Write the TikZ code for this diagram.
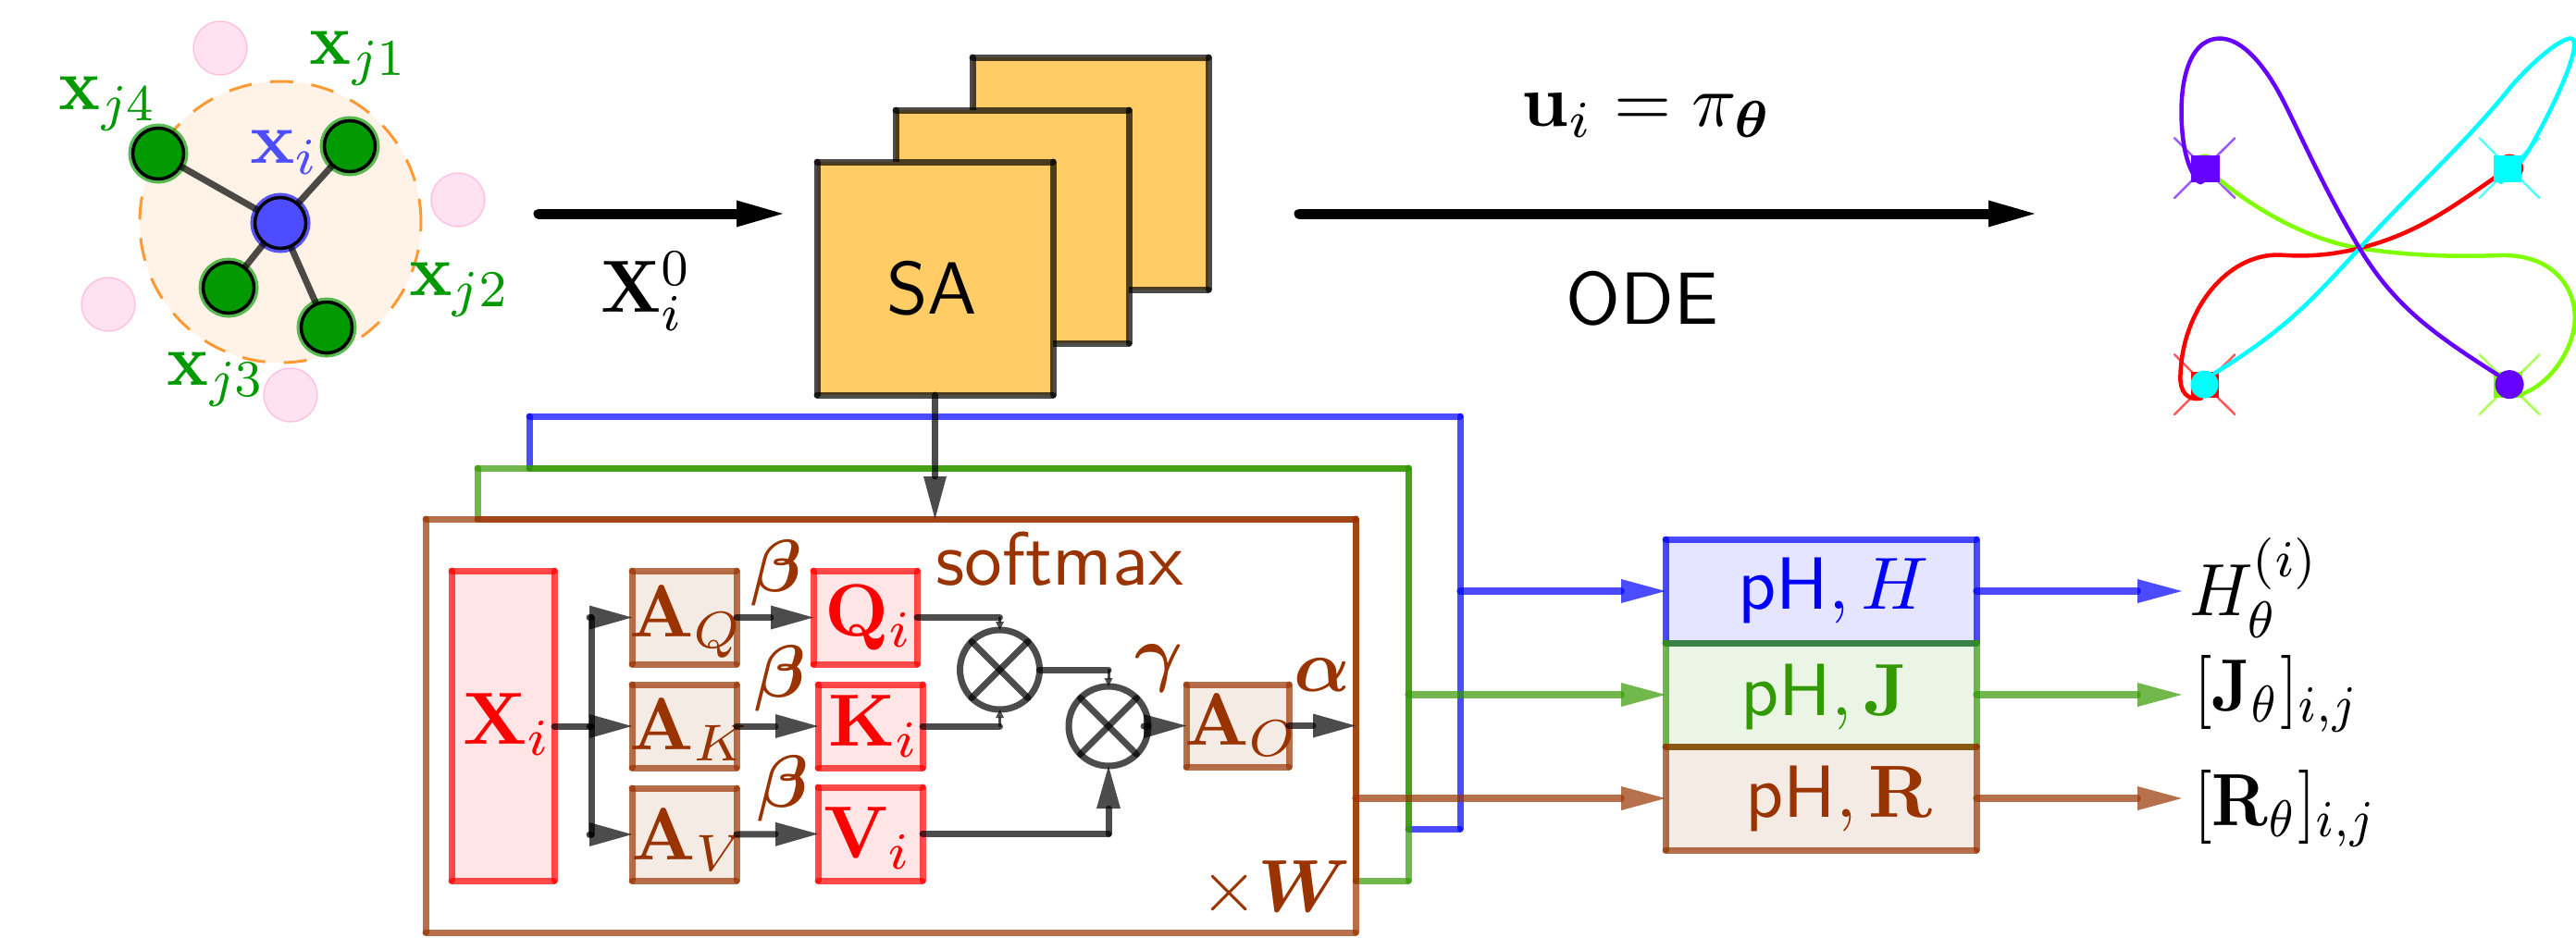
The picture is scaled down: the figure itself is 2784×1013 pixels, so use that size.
\documentclass[tikz,border=0pt]{standalone}
\usepackage{amsmath}
\usepackage{amssymb}
\usetikzlibrary{arrows.meta,calc}
\definecolor{rd}{HTML}{FF0000}
\definecolor{brn}{HTML}{993300}
\definecolor{blu}{HTML}{0000FF}
\definecolor{grn}{HTML}{339900}
\definecolor{dgn}{HTML}{009900}
\definecolor{xblu}{HTML}{4D4DFF}
\definecolor{org}{HTML}{FF9933}
\definecolor{pnk}{HTML}{FF99CC}
\definecolor{card}{HTML}{FFCC66}
\definecolor{tpur}{HTML}{6600FF}
\definecolor{tcya}{HTML}{00FFFF}
\definecolor{tgrn}{HTML}{80FF00}
\tikzset{
  bx/.style 2 args={rectangle,inner sep=0pt,outer sep=0pt,minimum width=#1pt,minimum height=#2pt},
  edge/.style={draw=#1,opacity=.7,line width=7pt,line cap=round},
  lab/.style={inner sep=0pt,outer sep=0pt,scale=8,anchor=base west},
  labc/.style={inner sep=0pt,outer sep=0pt,scale=8,anchor=center},
  conn/.style={draw=black,opacity=.7,line width=7pt,line cap=round},
  head/.style={conn,-{Triangle[length=46pt,width=26pt,line width=0pt]}},
  tiny/.style={conn,line width=3pt,-{Triangle[length=9pt,width=9pt,line width=0pt]}},
  cflow/.style={draw=#1,opacity=.7,line width=7.5pt,line cap=round,-{Triangle[length=48pt,width=26pt,line width=0pt]}},
  bigar/.style={draw=black,line width=11pt,line cap=round,-{Triangle[length=50pt,width=29pt,line width=0pt]}},
  otim/.style={circle,inner sep=0pt,outer sep=0pt,minimum size=86pt},
  pinkn/.style={circle,inner sep=0pt,minimum size=58pt,fill=pnk!28,draw=pnk,draw opacity=.5,line width=1.5pt},
  gnode/.style={circle,inner sep=0pt,outer sep=0pt,minimum size=55pt,fill=dgn,draw=black,line width=3.5pt,
    preaction={draw=dgn,draw opacity=.65,line width=10pt}},
  bnode/.style={circle,inner sep=0pt,outer sep=0pt,minimum size=55pt,fill=xblu,draw=black,line width=3.5pt,
    preaction={draw=blu,draw opacity=.65,line width=10pt}},
  spoke/.style={draw=black,opacity=.7,line width=7pt},
  traj/.style={draw=#1,line width=4.5pt,line cap=round},
  xmark/.style={draw=#1,opacity=.65,line width=2.5pt,line cap=round},
}
\begin{document}
\begin{tikzpicture}[x=1pt,y=-1pt]
\useasboundingbox (0,0) rectangle (2784,1013);

% --- neighbourhood graph
\node[circle,inner sep=0pt,minimum size=304pt,fill=org!12,draw=org,line width=3pt,dash pattern=on 25pt off 20pt] (hood) at (303,240) {};
\node[pinkn] (p1) at (238,52) {};
\node[pinkn] (p2) at (495,216) {};
\node[pinkn] (p3) at (117,329) {};
\node[pinkn] (p4) at (314,427) {};
\node[bnode] (ci) at (303,241) {};
\node[gnode] (j1) at (378,158) {};
\node[gnode] (j2) at (353,354) {};
\node[gnode] (j3) at (247,311) {};
\node[gnode] (j4) at (171,166) {};
\foreach \n in {j1,j2,j3,j4} {\draw[spoke] (ci) -- (\n);}
\node[labc,xscale=.93,text=dgn] (lj1) at (388,63) {$\mathbf{x}_{j1}$};
\node[labc,xscale=.96,text=dgn] (lj2) at (497,313) {$\mathbf{x}_{j2}$};
\node[labc,xscale=.93,text=dgn] (lj3) at (234,410) {$\mathbf{x}_{j3}$};
\node[labc,xscale=.93,text=dgn] (lj4) at (117,112) {$\mathbf{x}_{j4}$};
\node[labc,text=xblu] (lxi) at (308,165) {$\mathbf{x}_{i}$};

% --- SA cards
\node[bx={255}{251},fill=card] (c3) at (1178.5,187.5) {};
\foreach \a/\b in {north west/north east,north east/south east,south east/south west,south west/north west} {\draw[edge=black] (c3.\a) -- (c3.\b);}
\node[bx={252}{252},fill=card] (c2) at (1094,245) {};
\foreach \a/\b in {north west/north east,north east/south east,south east/south west,south west/north west} {\draw[edge=black] (c2.\a) -- (c2.\b);}
\node[bx={255}{252},fill=card] (c1) at (1010.5,301) {};
\foreach \a/\b in {north west/north east,north east/south east,south east/south west,south west/north west} {\draw[edge=black] (c1.\a) -- (c1.\b);}
\node[labc] (lsa) at (1007,312) {\textsf{SA}};

% --- top arrows
\coordinate (a1s) at (582,231);
\coordinate (a1e) at (846,231);
\coordinate (a2s) at (1404,231);
\coordinate (a2e) at (2199,231);
\draw[bigar] (a1s) -- (a1e);
\draw[bigar] (a2s) -- (a2e);
\node[labc,xscale=.94] (lx0) at (699,315) {$\mathbf{X}_i^0$};
\node[labc] (lu) at (1780,125) {$\mathbf{u}_i=\pi_{\boldsymbol{\theta}}$};
\node[labc] (lode) at (1775,323) {\textsf{ODE}};

% --- frames
\coordinate (bA) at (572,506);
\coordinate (bB) at (572,450);
\coordinate (bC) at (1578,450);
\coordinate (bD) at (1578,896);
\coordinate (bE) at (1522,896);
\coordinate (bF) at (1522,506);
\foreach \a/\b in {bA/bB,bB/bC,bC/bD,bD/bE} {\draw[edge=blu] (\a) -- (\b);}
\foreach \a/\b in {bE/bF,bF/bA} {\draw[edge=grn] (\a) -- (\b);}
\coordinate (gA) at (516,561);
\coordinate (gB) at (516,506);
\coordinate (gC) at (1522,506);
\coordinate (gD) at (1522,952);
\coordinate (gE) at (1465,952);
\coordinate (gF) at (1465,561);
\foreach \a/\b in {gA/gB,gB/gC,gC/gD,gD/gE} {\draw[edge=grn] (\a) -- (\b);}
\foreach \a/\b in {gE/gF,gF/gA} {\draw[edge=brn] (\a) -- (\b);}
\node[bx={1005}{447}] (att) at (962.5,784.5) {};
\foreach \a/\b in {north west/north east,north east/south east,south east/south west,south west/north west} {\draw[edge=brn] (att.\a) -- (att.\b);}

% --- SA to attention
\draw[conn,-{Triangle[length=46pt,width=25pt,line width=0pt]}] (c1.south) -- (c1.south |- att.north);

% --- attention boxes
\node[bx={111}{335},fill=rd!10]  (Xi) at (543.5,784.5) {};
\node[bx={113}{101},fill=brn!10] (AQ) at (739.5,667.5) {};
\node[bx={113}{90},fill=brn!10]  (AK) at (739.5,785) {};
\node[bx={113}{100},fill=brn!10] (AV) at (739.5,902) {};
\node[bx={112}{101},fill=rd!10]  (Qi) at (935,667.5) {};
\node[bx={113}{90},fill=rd!10]   (Ki) at (940.5,785) {};
\node[bx={113}{101},fill=rd!10]  (Vi) at (940.5,901.5) {};
\node[bx={111}{89},fill=brn!10]  (AO) at (1337.5,784.5) {};
\foreach \n/\c in {Xi/rd,AQ/brn,AK/brn,AV/brn,Qi/rd,Ki/rd,Vi/rd,AO/brn} {
  \foreach \a/\b in {north west/north east,north east/south east,south east/south west,south west/north west} {\draw[edge=\c] (\n.\a) -- (\n.\b);}
}
\node[lab,text=rd]  (lXi) at (500,804) {$\mathbf{X}_i$};
\node[lab,text=brn] (lAQ) at (680,688.5) {$\mathbf{A}_Q$};
\node[lab,text=brn] (lAK) at (680,810) {$\mathbf{A}_K$};
\node[lab,text=brn] (lAV) at (682,929) {$\mathbf{A}_V$};
\node[lab,text=rd]  (lQi) at (891,687) {$\mathbf{Q}_i$};
\node[lab,text=rd]  (lKi) at (895,806) {$\mathbf{K}_i$};
\node[lab,text=rd]  (lVi) at (890,927) {$\mathbf{V}_i$};
\node[lab,text=brn] (lAO) at (1280,805) {$\mathbf{A}_O$};
\node[lab,text=brn] (lb1) at (811,639) {$\boldsymbol{\beta}$};
\node[lab,text=brn] (lb2) at (815,753) {$\boldsymbol{\beta}$};
\node[lab,text=brn] (lb3) at (818,872) {$\boldsymbol{\beta}$};
\node[lab,scale=1.02,text=brn] (lsm) at (1011,632) {\textsf{softmax}};
\node[lab,text=brn] (lga) at (1226,732) {$\boldsymbol{\gamma}$};
\node[lab,text=brn] (lal) at (1398,747) {$\boldsymbol{\alpha}$};
\node[lab,text=brn] (lw)  at (1297,985) {$\times\boldsymbol{W}$};

% --- attention connectors
\coordinate (tr) at (639,785);
\coordinate (trQ) at (tr |- AQ.west);
\coordinate (trV) at (tr |- AV.west);
\draw[conn] (Xi.east |- tr) -- (tr);
\draw[conn] (trQ) -- (trV);
\draw[head] (trQ) -- (AQ.west);
\draw[head] (tr) -- (AK.west);
\draw[head] (trV) -- (AV.west);
\draw[head] (AQ.east) -- (Qi.west);
\draw[head] (AK.east) -- (Ki.west);
\draw[head] (AV.east) -- (Vi.west);

\node[otim] (m1) at (1080.5,724) {};
\node[otim] (m2) at (1198,785) {};
\foreach \n in {m1,m2} {
  \draw[conn] (\n.center) circle[radius=43pt];
  \draw[conn] (\n.45) -- (\n.225);
  \draw[conn] (\n.135) -- (\n.315);
}
\coordinate (q1) at (m1 |- Qi.east);
\coordinate (k1) at (m1 |- Ki.east);
\coordinate (v1) at (m2 |- Vi.east);
\coordinate (o1) at (m2 |- m1.east);
\draw[conn] (Qi.east) -- (q1);
\draw[tiny] (q1) -- (m1.north);
\draw[conn] (Ki.east) -- (k1);
\draw[tiny] (k1) -- (m1.south);
\draw[conn] (m1.east) -- (o1);
\draw[tiny] (o1) -- (m2.north);
\draw[conn] (Vi.east) -- (v1);
\draw[head] (v1) -- (m2.south);
\draw[head] (m2.east) -- (AO.west);
\coordinate (aoe) at (att.east |- AO.east);
\draw[head] (AO.east) -- (aoe);

% --- pH boxes
\node[bx={336}{112},fill=blu!10] (pH1) at (1968,639) {};
\node[bx={336}{112},fill=grn!10] (pH2) at (1968,751) {};
\node[bx={336}{112},fill=brn!10] (pH3) at (1968,863) {};
\foreach \n/\c in {pH1/blu,pH2/grn,pH3/brn} {
  \foreach \a/\b in {north west/north east,north east/south east,south east/south west,south west/north west} {\draw[edge=\c] (\n.\a) -- (\n.\b);}
}
\node[lab,text=blu] (tH) at (1878,658) {$\textsf{pH},H$};
\node[lab,text=grn] (tJ) at (1881,773) {$\textsf{pH},\mathbf{J}$};
\node[lab,text=brn] (tR) at (1886,883) {$\textsf{pH},\mathbf{R}$};

\coordinate (i1) at (bC |- pH1.west);
\coordinate (i2) at (gC |- pH2.west);
\coordinate (i3) at (att.east |- pH3.west);
\coordinate (o1a) at (2358,639);
\coordinate (o2a) at (2358,751);
\coordinate (o3a) at (2358,863);
\draw[cflow=blu] (i1) -- (pH1.west);
\draw[cflow=grn] (i2) -- (pH2.west);
\draw[cflow=brn] (i3) -- (pH3.west);
\draw[cflow=blu] (pH1.east) -- (o1a);
\draw[cflow=grn] (pH2.east) -- (o2a);
\draw[cflow=brn] (pH3.east) -- (o3a);
\node[lab,xscale=.94] (oH) at (2366,665) {$H_\theta^{(i)}$};
\node[lab,xscale=.88] (oJ) at (2371,768) {$[\mathbf{J}_\theta]_{i,j}$};
\node[lab,xscale=.88] (oR) at (2371,892) {$[\mathbf{R}_\theta]_{i,j}$};

% --- trajectories (local frame of the right-hand plot)
\begin{scope}[shift={(2200,0)},x=0.3724pt,y=-0.3333pt]
  % crosses
  \draw[xmark=tpur] (403,448) -- (578,642);
  \draw[xmark=tpur] (578,448) -- (403,642);
  \draw[xmark=tcya] (1288,448) -- (1462,642);
  \draw[xmark=tcya] (1462,448) -- (1288,642);
  \draw[xmark=rd] (403,1150) -- (578,1344);
  \draw[xmark=rd] (578,1150) -- (403,1344);
  \draw[xmark=tgrn] (1288,1150) -- (1462,1344);
  \draw[xmark=tgrn] (1462,1150) -- (1288,1344);
  % underlying start markers
  \fill[rd]   (1375,545) circle[radius=15pt];
  \fill[tgrn] (490,545) circle[radius=15pt];
  \fill[rd]   (450,1205) rectangle (532,1290);
  \fill[tgrn] (1330,1205) rectangle (1412,1290);
  % curves
  \draw[traj=tgrn] (530,580) .. controls (650,690) and (800,780) .. (940,805) .. controls (1060,825) and (1180,835) .. (1350,828) .. controls (1500,825) and (1565,930) .. (1565,1030) .. controls (1565,1130) and (1490,1260) .. (1390,1285);
  \draw[traj=rd] (1340,570) .. controls (1200,680) and (1100,760) .. (940,805) .. controls (850,830) and (780,832) .. (710,827) .. controls (560,820) and (425,1000) .. (420,1220) .. controls (418,1270) and (440,1300) .. (480,1292);
  \draw[traj=tcya] (520,1210) .. controls (740,1060) and (820,950) .. (940,805) .. controls (1100,610) and (1260,450) .. (1380,280) .. controls (1450,190) and (1530,120) .. (1555,125) .. controls (1585,135) and (1530,290) .. (1440,470) .. controls (1410,530) and (1380,560) .. (1350,590);
  \draw[traj=tpur] (1340,1215) .. controls (1150,1080) and (1040,990) .. (940,805) .. controls (840,620) and (770,440) .. (720,330) .. controls (670,220) and (600,120) .. (530,125) .. controls (440,130) and (415,280) .. (425,420) .. controls (430,500) and (450,570) .. (478,590);
  % end markers
  \fill[tpur] (450,505) rectangle (535,590);
  \fill[tpur] (478,582) circle[radius=5.5pt];
  \fill[tcya] (1328,505) rectangle (1410,590);
  \fill[tcya] (1350,585) circle[radius=4pt];
  \fill[tcya] (490,1247) circle[radius=15pt];
  \fill[tpur] (1375,1247) circle[radius=15.5pt];
\end{scope}
\end{tikzpicture}
\end{document}
